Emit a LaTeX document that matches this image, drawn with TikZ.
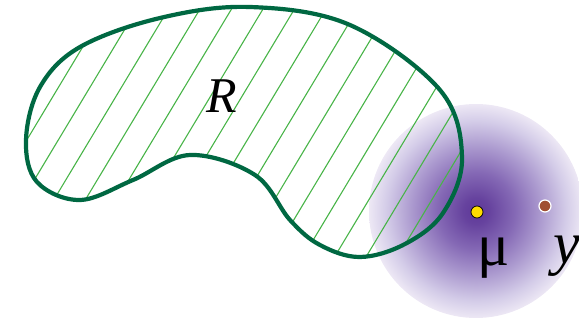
\documentclass[tikz,border=0pt]{standalone}
\usepackage{fontspec}
\setmainfont{Liberation Serif}

\definecolor{regiongreen}{RGB}{0,104,66}
\definecolor{hatchgreen}{RGB}{72,180,72}
\definecolor{dotyellow}{RGB}{255,221,0}
\definecolor{dotbrown}{RGB}{160,78,50}

% Gaussian cloud around the mean
\pgfdeclareradialshading{gaussblob}{\pgfpoint{0bp}{0bp}}{%
  rgb(0bp)=(0.37,0.22,0.60);
  rgb(3bp)=(0.40,0.26,0.62);
  rgb(9bp)=(0.52,0.41,0.71);
  rgb(15bp)=(0.67,0.60,0.81);
  rgb(21bp)=(0.83,0.80,0.91);
  rgb(25bp)=(0.93,0.91,0.96);
  rgb(50bp)=(0.93,0.91,0.96)}

\tikzset{
  outline/.style={draw=regiongreen, line width=4.2pt},
  hatch/.style={draw=hatchgreen, line width=1.1pt},
  meandot/.style={circle, fill=dotyellow, draw=black, line width=0.7pt, inner sep=0pt, minimum size=12pt},
  pointdot/.style={circle, fill=dotbrown, draw=white, line width=1.2pt, inner sep=0pt, minimum size=12pt},
  biglabel/.style={inner sep=0pt, font=\fontsize{60}{60}\selectfont}
}

\def\regionpath{plot[smooth cycle, tension=0.6] coordinates {
  (26,140) (40,87) (80,47) (160,18) (250,7) (350,25) (440,90) (462,158)
  (443,213) (405,244) (360,257) (320,245) (290,220) (255,175) (190,155)
  (133,180) (80,200) (37,182)}}

\begin{document}
\begin{tikzpicture}[x=1pt, y=-1pt]
    \useasboundingbox (0,0) rectangle (579,321);

    % Gaussian
    \coordinate (centre) at (476,211);
    \shade[shading=gaussblob] (centre) circle[radius=107pt];

    % Region R: hatching
    \begin{scope}
        \clip \regionpath;
        \foreach \i in {-12,...,11}
            \draw[hatch] ({253.3+31.5*\i-0.515*300}, {130+0.857*300})
                      -- ({253.3+31.5*\i+0.515*300}, {130-0.857*300});
    \end{scope}

    % Region R: boundary
    \draw[outline] \regionpath;
    \node[inner sep=0pt, anchor=base, font=\fontsize{50}{50}\selectfont\itshape] (rlabel) at (222,113) {R};

    % Mean and point
    \node[meandot] (mu) at (477,212) {};
    \node[pointdot] (y) at (545,206) {};
    \node[biglabel, anchor=base] (mulabel) at (494,265) {μ};
    \node[biglabel, anchor=base west, font=\fontsize{60}{60}\selectfont\itshape] (ylabel) at (553,263) {y};
\end{tikzpicture}
\end{document}
